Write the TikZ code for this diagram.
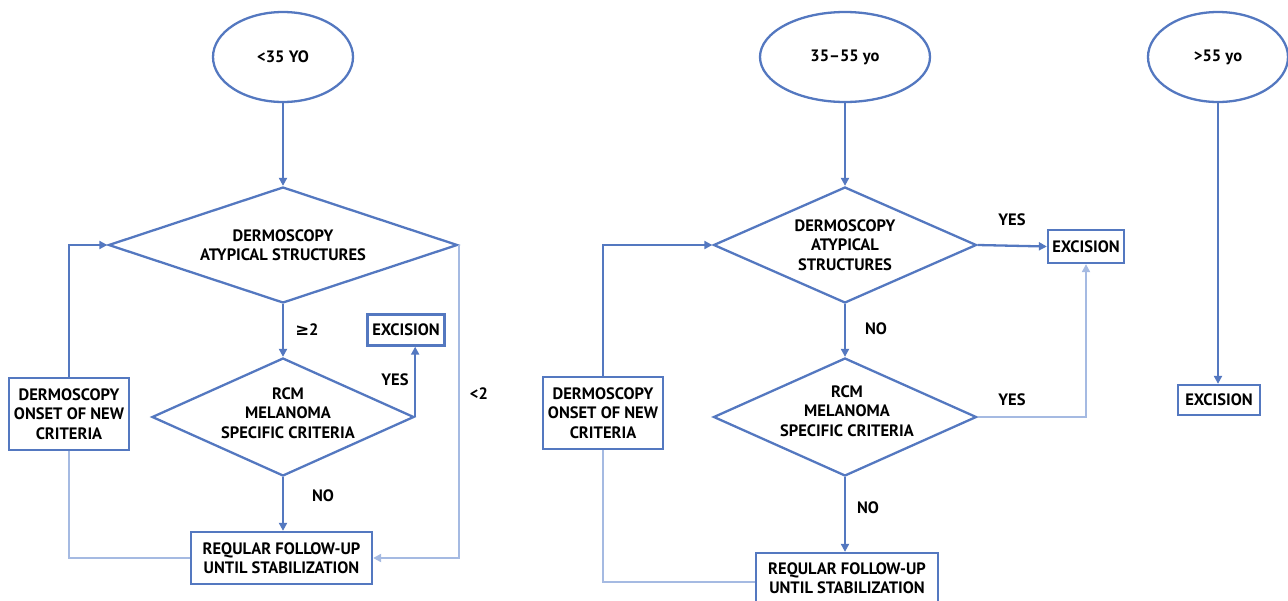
\documentclass[tikz,border=0pt]{standalone}
\usepackage{fontspec}
\setmainfont{PT Sans}[BoldFont={PT Sans Bold}]
\newfontfamily\symf{DejaVu Sans}
\usetikzlibrary{shapes.geometric,arrows.meta}
\definecolor{mainblue}{RGB}{84,120,192}
\definecolor{paleblue}{RGB}{165,186,226}
\newcommand{\lbl}{\fontsize{16.5}{19.5}\selectfont\bfseries}
\tikzset{
 ln/.style={draw=mainblue, line width=2.3pt},
 pale/.style={draw=paleblue, line width=2.3pt},
 arr/.style={-{Triangle[length=8pt,width=8pt]}},
 box/.style={draw=mainblue, line width=2.3pt, fill=white, inner sep=0, align=center, font=\lbl},
 dia/.style={diamond, draw=mainblue, line width=2.3pt, inner sep=0},
 ell/.style={ellipse, draw=mainblue, line width=2.3pt, inner sep=0, minimum height=90, font=\lbl},
 txt/.style={font=\lbl, inner sep=0, align=center}
}
\begin{document}
\begin{tikzpicture}[x=1pt,y=-1pt]
\useasboundingbox (0,0) rectangle (1288,600);
% ---------- left column ----------
\node[ell, minimum width=140] (e1) at (283,57) {<35 YO};
\node[dia, minimum width=349, minimum height=116,
  label={[txt]center:{DERMOSCOPY\\ATYPICAL STRUCTURES}}] (d1) at (283,245) {};
\node[dia, minimum width=262, minimum height=118,
  label={[txt, xshift=5pt, yshift=4pt]center:{RCM\\MELANOMA\\SPECIFIC CRITERIA}}] (d2) at (283,417) {};
\node[box, minimum width=77, minimum height=31] (exL) at (406,330) {EXCISION};
\node[box, minimum width=181, minimum height=52] (fuL) at (281.5,558) {REQULAR FOLLOW-UP\\UNTIL STABILIZATION};
\node[box, minimum width=120, minimum height=72] (dbL) at (69,414) {DERMOSCOPY\\ONSET OF NEW\\CRITERIA};
\draw[ln,arr] (e1.south) -- (d1.north);
\draw[ln,arr] (d1.south) -- (d2.north);
\draw[ln,arr] (d2.east) -- (d2.east |- exL.south);
\draw[ln,arr] (d2.south) -- (d2.south |- fuL.north);
\draw[pale,arr] (d1.east) -- (d1.east |- fuL.east) -- (fuL.east);
\draw[pale] (fuL.west) -| (dbL.south);
\draw[ln,arr] (dbL.north) |- (d1.west);
\node[txt] (l1) at (307,330) {{\symf\bfseries ≥}2};
\node[txt] (l2) at (395,380) {YES};
\node[txt] (l3) at (323,496) {NO};
\node[txt] (l4) at (479,394) {<2};
% ---------- middle column ----------
\node[ell, minimum width=170] (e2) at (845,57) {35–55 yo};
\node[dia, minimum width=263, minimum height=116,
  label={[txt]center:{DERMOSCOPY\\ATYPICAL\\STRUCTURES}}] (d3) at (845,245) {};
\node[dia, minimum width=263, minimum height=118,
  label={[txt, xshift=2pt, yshift=6pt]center:{RCM\\MELANOMA\\SPECIFIC CRITERIA}}] (d4) at (845,417) {};
\node[box, minimum width=76, minimum height=33] (exM) at (1086,246.5) {EXCISION};
\node[box, minimum width=182, minimum height=50] (fuM) at (847,578) {REQULAR FOLLOW-UP\\UNTIL STABILIZATION};
\node[box, minimum width=120, minimum height=72] (dbM) at (603,413) {DERMOSCOPY\\ONSET OF NEW\\CRITERIA};
\draw[ln,arr] (e2.south) -- (d3.north);
\draw[ln,arr] (d3.east) -- (exM.west);
\draw[ln,arr] (d3.south) -- (d4.north);
\draw[pale,arr] (d4.east) -| (exM.south);
\draw[ln,arr] (d4.south) -- (d4.south |- fuM.north);
\draw[pale] ([yshift=-4pt]fuM.west) -| (dbM.south);
\draw[ln,arr] (dbM.north) |- (d3.west);
\node[txt] (l5) at (1012,220) {YES};
\node[txt] (l6) at (876,329) {NO};
\node[txt] (l7) at (1012,400) {YES};
\node[txt] (l8) at (868,508) {NO};
% ---------- right column ----------
\node[ell, minimum width=140] (e3) at (1218,57) {>55 yo};
\node[box, minimum width=82, minimum height=30] (exR) at (1219,400) {EXCISION};
\draw[ln,arr] (e3.south) -- (e3.south |- exR.north);
\end{tikzpicture}
\end{document}
